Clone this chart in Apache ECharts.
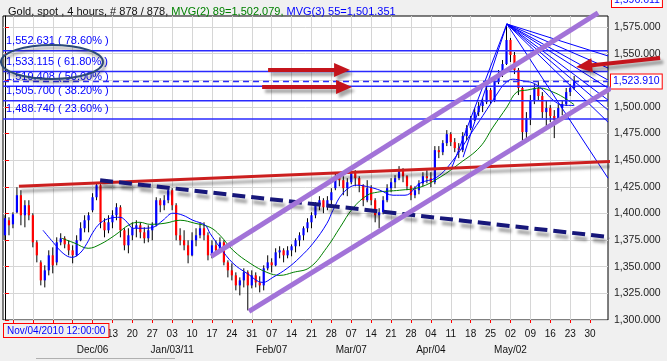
<!DOCTYPE html>
<html><head><meta charset="utf-8">
<script src="https://cdn.jsdelivr.net/npm/echarts@6/dist/echarts.min.js"></script>
<style>html,body{margin:0;padding:0;background:#f0f0f0}#c{width:667px;height:361px}</style>
</head><body><div id="c"></div>
<script>
// ---- data ----
const dayCount = 152; // trading days Nov/04/2010 .. Jun/03/2011 (index = day)
const weekTickIdx = [2,7,12,17,22,27,32,37,42,47,52,57,62,67,72,77,82,87,92,97,102,107,112,117,122,127,132,137,142,147];
const weekLabels = ['08','15','22','29','06','13','20','27','03','10','17','24','31','07','14','21','28','07','14','21','28','04','11','18','25','02','09','16','23','30'];
const monthLabels = ['','','','','Dec/06','','','','Jan/03/11','','','','','Feb/07','','','','Mar/07','','','','Apr/04','','','','May/02','','','',''];
const yTicks = [1300,1325,1350,1375,1400,1425,1450,1475,1500,1525,1550,1575];
// [open, close, low, high] per day
const ohlc = [
[1379.5,1395.5,1374.8,1398.3],[1393.6,1388.9,1379.5,1396.4],[1389.8,1399.2,1386.1,1401.1],[1401.1,1417.1,1400.2,1424.6],
[1417.1,1398.3,1388.9,1421.8],[1398.3,1407.7,1387.0,1412.4],[1407.7,1398.3,1393.6,1412.4],[1398.3,1372.9,1368.2,1400.2],
[1372.9,1360.7,1354.1,1374.8],[1354.1,1337.2,1332.5,1356.0],[1337.2,1346.6,1330.6,1351.3],[1346.6,1360.7,1341.9,1365.4],
[1360.7,1351.3,1343.8,1368.2],[1354.1,1372.9,1351.3,1377.6],[1372.9,1376.7,1370.1,1381.4],[1376.7,1371.0,1367.3,1378.6],
[1371.0,1365.4,1360.7,1374.8],[1365.4,1360.7,1353.2,1370.1],[1360.7,1374.8,1359.8,1379.5],[1374.8,1386.1,1373.9,1391.7],
[1386.1,1393.6,1382.3,1398.3],[1393.6,1398.3,1382.3,1401.1],[1403.0,1415.2,1401.1,1419.0],[1415.2,1426.5,1412.4,1429.3],
[1426.5,1391.7,1386.1,1427.4],[1391.7,1384.2,1377.6,1395.5],[1384.2,1391.7,1381.4,1398.3],[1391.7,1398.3,1386.1,1403.0],
[1398.3,1405.8,1393.6,1409.6],[1405.8,1384.2,1377.6,1407.7],[1384.2,1370.1,1365.4,1386.1],[1370.1,1379.5,1362.6,1386.1],
[1379.5,1386.1,1374.8,1391.7],[1386.1,1388.9,1377.6,1393.6],[1388.9,1382.3,1376.7,1391.7],[1382.3,1376.7,1372.0,1387.0],
[1376.7,1384.2,1372.9,1388.9],[1384.2,1388.9,1374.8,1391.7],[1388.9,1412.4,1387.9,1415.2],[1412.4,1407.7,1401.1,1414.3],
[1407.7,1412.4,1403.0,1417.1],[1412.4,1421.8,1409.6,1425.5],[1421.8,1407.7,1403.0,1423.7],[1407.7,1379.5,1374.8,1409.6],
[1379.5,1374.8,1370.1,1386.1],[1374.8,1370.1,1365.4,1384.2],[1370.1,1360.7,1353.2,1374.8],[1360.7,1374.8,1359.8,1382.3],
[1374.8,1379.5,1369.2,1386.1],[1379.5,1386.1,1376.7,1391.7],[1386.1,1379.5,1374.8,1391.7],[1379.5,1360.7,1356.0,1382.3],
[1360.7,1370.1,1357.9,1374.8],[1370.1,1365.4,1362.6,1374.8],[1365.4,1372.9,1363.5,1377.6],[1372.9,1354.1,1351.3,1374.8],
[1354.1,1346.6,1340.0,1356.0],[1346.6,1341.9,1337.2,1353.2],[1341.9,1332.5,1327.8,1344.7],[1332.5,1337.2,1323.1,1340.0],
[1337.2,1344.7,1330.6,1348.5],[1344.7,1332.5,1309.0,1346.6],[1332.5,1341.9,1329.7,1346.6],[1341.9,1335.3,1330.6,1344.7],
[1335.3,1332.5,1325.9,1341.0],[1332.5,1348.5,1327.8,1351.3],[1348.5,1354.1,1346.6,1360.7],[1354.1,1351.3,1344.7,1357.9],
[1351.3,1363.5,1350.4,1367.3],[1363.5,1365.4,1357.9,1369.2],[1365.4,1360.7,1354.1,1367.3],[1360.7,1365.4,1357.9,1369.2],
[1365.4,1369.2,1359.8,1371.0],[1369.2,1374.8,1363.5,1376.7],[1374.8,1379.5,1369.2,1382.3],[1379.5,1386.1,1374.8,1387.9],
[1386.1,1391.7,1382.3,1395.5],[1391.7,1398.3,1386.1,1401.1],[1398.3,1407.7,1395.5,1410.5],[1407.7,1412.4,1403.0,1416.2],
[1412.4,1405.8,1400.2,1414.3],[1405.8,1412.4,1403.0,1416.2],[1412.4,1419.9,1407.7,1423.7],[1423.7,1434.9,1421.8,1438.7],
[1434.9,1431.2,1425.5,1438.7],[1431.2,1423.7,1417.1,1434.9],[1423.7,1429.3,1416.2,1433.1],[1429.3,1438.7,1427.4,1442.5],
[1438.7,1433.1,1425.5,1440.6],[1433.1,1426.5,1419.9,1434.9],[1426.5,1412.4,1406.8,1427.4],[1412.4,1423.7,1410.5,1431.2],
[1423.7,1412.4,1407.7,1426.5],[1412.4,1398.3,1391.7,1414.3],[1398.3,1401.1,1386.1,1404.9],[1401.1,1412.4,1399.2,1416.2],
[1412.4,1423.7,1410.5,1427.4],[1423.7,1429.3,1419.9,1433.1],[1429.3,1433.1,1423.7,1435.9],[1433.1,1440.6,1431.2,1444.4],
[1440.6,1434.9,1429.3,1442.5],[1434.9,1425.5,1421.8,1435.9],[1425.5,1417.1,1412.4,1426.5],[1417.1,1421.8,1414.3,1425.5],
[1421.8,1428.3,1418.0,1431.2],[1428.3,1434.9,1425.5,1438.7],[1434.9,1433.1,1428.3,1440.6],[1433.1,1429.3,1424.6,1438.7],
[1429.3,1459.4,1427.4,1463.2],[1459.4,1457.5,1451.9,1463.2],[1457.5,1466.0,1454.7,1468.8],[1466.0,1474.4,1463.2,1478.2],
[1474.4,1466.9,1463.2,1476.3],[1466.9,1461.3,1457.5,1470.7],[1461.3,1459.4,1451.9,1466.0],[1459.4,1472.6,1457.5,1476.3],
[1472.6,1480.1,1468.8,1482.9],[1480.1,1487.6,1478.2,1491.4],[1487.6,1495.1,1486.7,1498.9],[1495.1,1500.8,1491.4,1504.5],
[1500.8,1504.5,1495.1,1508.3],[1504.5,1515.8,1502.6,1518.6],[1515.8,1506.4,1502.6,1517.7],[1506.4,1523.3,1504.5,1527.1],
[1523.3,1530.8,1521.4,1534.6],[1530.8,1540.2,1528.0,1544.0],[1540.2,1562.8,1539.3,1577.8],[1562.8,1548.7,1542.1,1564.7],
[1548.7,1534.6,1530.8,1551.5],[1534.6,1517.7,1511.1,1536.5],[1517.7,1476.3,1468.8,1519.6],[1476.3,1489.5,1470.7,1495.1],
[1489.5,1506.4,1482.9,1511.1],[1506.4,1517.7,1502.6,1521.4],[1517.7,1510.2,1506.4,1523.3],[1510.2,1495.1,1489.5,1513.9],
[1495.1,1498.9,1481.0,1506.4],[1498.9,1491.4,1485.7,1501.7],[1491.4,1487.6,1470.7,1497.0],[1487.6,1498.9,1486.7,1502.6],
[1498.9,1502.6,1492.3,1506.4],[1502.6,1513.9,1500.8,1517.7],[1513.9,1517.7,1510.2,1521.4],[1517.7,1523.91,1515.8,1529.0]
];
// moving averages [day, value]
const ma89 = [[14.3,1376.7],[17.6,1372.0],[20.9,1367.3],[23.9,1371.0],[27.6,1379.5],[31.4,1389.8],[33.9,1391.7],[36.4,1389.8],
[40.2,1390.8],[44.0,1393.6],[47.7,1390.8],[51.5,1387.0],[54.0,1379.5],[57.3,1365.4],[61.6,1353.2],[65.8,1344.7],[69.1,1341.9],
[72.4,1344.7],[76.6,1349.4],[80.9,1368.2],[84.2,1387.0],[87.4,1404.9],[91.0,1417.1],[93.5,1419.9],[96.0,1420.9],[99.2,1421.8],
[104.3,1424.6],[109.3,1434.0],[114.3,1447.2],[119.3,1462.2],[122.6,1481.0],[126.1,1499.8],[128.6,1513.9],[131.2,1515.8],
[134.4,1517.7],[137.7,1513.9],[140.2,1509.2],[143.0,1502.079]];
const ma55 = [[9.55,1384.2],[12.1,1372.9],[14.6,1362.6],[16.8,1358.8],[18.8,1362.6],[20.6,1372.0],[22.1,1382.3],[23.9,1390.8],
[26.4,1395.5],[28.9,1396.4],[30.7,1391.7],[32.2,1386.1],[34.7,1386.1],[37.2,1387.0],[39.7,1393.6],[42.2,1400.2],[44.7,1398.3],
[47.2,1393.6],[50.3,1388.9],[51.5,1381.4],[54.0,1368.2],[57.3,1353.2],[60.8,1343.8],[64.8,1335.3],[67.3,1340.0],[70.9,1348.5],
[74.1,1358.8],[77.4,1372.0],[80.9,1390.8],[82.4,1403.0],[84.9,1419.0],[88.4,1426.5],[91.7,1424.6],[94.2,1421.8],[97.5,1417.1],
[100.5,1417.1],[104.3,1428.4],[108.5,1434.0],[112.6,1450.0],[116.8,1473.5],[120.1,1492.0],[123.6,1512.0],[125.6,1522.0],
[127.6,1526.0],[130.2,1524.3],[132.7,1522.4],[135.2,1515.8],[137.7,1506.4],[140.2,1501.7],[143.0,1501.351]];
const fibLevels = [1552.631, 1533.115, 1519.408, 1505.700, 1488.740];
const fibPct = ['78.60%', '61.80%', '50.00%', '38.20%', '23.60%'];
const lastPrice = 1523.910;
const highLabel = '1,596.611';
const startLabel = 'Nov/04/2010 12:00:00';
const redTrend = [[3.5,1425.6],[155,1449.1]];
const navyTrend = [[23.9,1431.2],[152.5,1377.6]];
const purpleUpper = [[51.8,1359.8],[149.0,1588.2]];
const purpleLower = [[61.3,1308.1],[152.3,1517.7]];
const fanApex = [126.1,1577.8];
const fanEnds = [[151.5,1547.8],[151.5,1536.5],[151.5,1525.2],[151.5,1517.7],[151.5,1506.4],[151.5,1497.0],[151.5,1485.7],[151.5,1433.1],[112.3,1443.4],[115.1,1452.8]];
const arrows = [[66.1,1534.6,86.7,1534.6],[64.6,1518.6,87.2,1518.6],[164.6,1545.9,143.5,1537.4]];
const ellipseCenter = [11.8,1542.2];

// ---- chart ----
const fmt = v => Number(v).toLocaleString('en-US',{minimumFractionDigits:3,maximumFractionDigits:3});
const FONT = 'Liberation Sans';
const BLUE = '#0000ff';
const LEVEL = '#2a2aff';
const chart = echarts.init(document.getElementById('c'), null, {renderer:'canvas'});
const shadow = {shadowColor:'rgba(0,0,0,0.35)', shadowBlur:3, shadowOffsetX:2, shadowOffsetY:5};

const candleData = ohlc.map((d,i)=>[i, d[0], d[1], d[2], d[3]]);
const fanData = fanEnds.map(e=>[fanApex[0], fanApex[1], e[0], e[1]]);
// horizontal levels: [value, kind] kind 0 = fib, 1 = last price
const levelData = fibLevels.map(v=>[v, 0]).concat([[lastPrice, 1]]);

function trend(data, style){
  return {type:'line', data:data, clip:false, showSymbol:false, symbol:'none', silent:true, animation:false,
          lineStyle:style, z:5};
}

chart.setOption({
  animation:false,
  backgroundColor:'#f0f0f0',
  title:{
    left:3, top:1,
    text:'{k|Gold, spot , 4 hours, # 878 / 878, }{g|MVG(2) 89=1,502.079, }{b|MVG(3) 55=1,501.351}',
    textStyle:{fontSize:11, fontWeight:'normal', fontFamily:FONT,
      rich:{k:{color:'#111', fontSize:11, fontFamily:FONT}, g:{color:'#008000', fontSize:11, fontFamily:FONT}, b:{color:'#0000ff', fontSize:11, fontFamily:FONT}}}
  },
  grid:{left:3, right:59, top:16, bottom:41, show:true, backgroundColor:'#ffffff', borderColor:'#000', borderWidth:1},
  xAxis:{
    type:'value', min:-0.5, max:dayCount-0.5,
    axisLine:{show:false},
    axisTick:{show:true, customValues:weekTickIdx, length:3, lineStyle:{color:'#ff0000'}},
    axisLabel:{customValues:weekTickIdx, margin:6, color:'#111', fontSize:10, fontFamily:FONT, lineHeight:16,
      formatter:function(v){ const k = weekTickIdx.indexOf(Math.round(v)); if(k<0) return ''; return weekLabels[k] + (monthLabels[k] ? '\n'+monthLabels[k] : ''); }},
    splitLine:{show:true, lineStyle:{color:'#d6d6d6', width:1}}
  },
  yAxis:{
    type:'value', position:'right', min:1300, max:1585.3, interval:25,
    axisLine:{show:true, lineStyle:{color:'#000'}},
    axisTick:{show:true, customValues:yTicks, length:4, lineStyle:{color:'#ff0000'}},
    axisLabel:{customValues:yTicks, margin:6, color:'#222', fontSize:10.5, fontFamily:FONT, formatter:v=>fmt(v)},
    splitLine:{show:true, lineStyle:{color:'#d6d6d6', width:1}}
  },
  series:[
    {type:'custom', name:'price', data:candleData, z:2, animation:false,
     encode:{x:0, y:[1,2,3,4]},
     renderItem:function(params, api){
       const x = api.value(0), o = api.value(1), c = api.value(2), l = api.value(3), h = api.value(4);
       const pO = api.coord([x,o]), pC = api.coord([x,c]), pL = api.coord([x,l]), pH = api.coord([x,h]);
       const w = api.size([1,0])[0]*0.55;
       const top = Math.min(pO[1],pC[1]), ht = Math.max(1, Math.abs(pO[1]-pC[1]));
       return {type:'group', children:[
         {type:'line', shape:{x1:pH[0], y1:pH[1], x2:pL[0], y2:pL[1]}, style:{stroke:'#000', lineWidth:1}},
         {type:'rect', shape:{x:pO[0]-w/2, y:top, width:w, height:ht}, style:{fill: c>=o ? '#0000ff' : '#ff0000'}}
       ]};
     }},
    {type:'line', name:'MVG(2) 89', data:ma89, smooth:0.4, showSymbol:false, symbol:'none', z:3,
     lineStyle:{color:'#008000', width:1}},
    {type:'line', name:'MVG(3) 55', data:ma55, smooth:0.4, showSymbol:false, symbol:'none', z:3,
     lineStyle:{color:'#0000ff', width:1}},
    {type:'custom', name:'levels', data:levelData, z:4, clip:false,
     renderItem:function(params, api){
       const v = api.value(0), kind = api.value(1);
       const cs = params.coordSys;
       const y = api.coord([0, v])[1];
       const x0 = cs.x, x1 = cs.x + cs.width;
       if (kind === 0) {
         const k = params.dataIndex;
         return {type:'group', children:[
           {type:'rect', shape:{x:x0, y:y-0.75, width:x1-x0, height:1.5}, style:{fill:LEVEL}},
           {type:'text', x:x0+3, y:y-4, style:{text: fmt(v)+' ( '+fibPct[k]+' )', fill:BLUE,
              font:'11px "Liberation Sans"', align:'left', verticalAlign:'bottom'}}
         ]};
       }
       return {type:'group', children:[
         {type:'line', shape:{x1:x0, y1:y, x2:x1, y2:y}, style:{stroke:LEVEL, lineWidth:1.5, lineDash:[6,4]}},
         {type:'text', x:x1+3, y:y, style:{text: fmt(v), fill:BLUE, font:'10.5px "Liberation Sans"', align:'left', verticalAlign:'middle',
              backgroundColor:'#fff', borderColor:'#ff0000', borderWidth:1, padding:[2,2,1,2]}}
       ]};
     }},
    {type:'custom', name:'fan', data:fanData, z:4, clip:false,
     renderItem:function(params, api){
       const a = api.coord([api.value(0), api.value(1)]), b = api.coord([api.value(2), api.value(3)]);
       return {type:'line', shape:{x1:a[0], y1:a[1], x2:b[0], y2:b[1]}, style:{stroke:'#0000ff', lineWidth:1}};
     }},
    trend(redTrend, Object.assign({color:'#cc1f1f', width:3}, shadow)),
    trend(navyTrend, Object.assign({color:'#17177a', width:4, type:[13,6]}, shadow)),
    trend(purpleUpper, {color:'#a273d8', width:5}),
    trend(purpleLower, {color:'#a273d8', width:5}),
    {type:'custom', name:'arrows', data:arrows, z:8, clip:false,
     renderItem:function(params, api){
       const T = api.coord([api.value(0), api.value(1)]), P = api.coord([api.value(2), api.value(3)]);
       const dx = P[0]-T[0], dy = P[1]-T[1], len = Math.hypot(dx,dy);
       const ux = dx/len, uy = dy/len, nx = -uy, ny = ux;
       const hl = 16, hw = 7, sw = 2;
       const Bx = P[0]-ux*hl, By = P[1]-uy*hl;
       const pts = [[T[0]+nx*sw, T[1]+ny*sw],[Bx+nx*sw, By+ny*sw],[Bx+nx*hw, By+ny*hw],[P[0],P[1]],
                    [Bx-nx*hw, By-ny*hw],[Bx-nx*sw, By-ny*sw],[T[0]-nx*sw, T[1]-ny*sw]];
       return {type:'polygon', shape:{points:pts},
               style:{fill:'#c4141c', shadowColor:'rgba(0,0,0,0.35)', shadowBlur:3, shadowOffsetX:3, shadowOffsetY:4}};
     }},
    {type:'custom', name:'ellipse', data:[ellipseCenter], z:8, clip:false,
     renderItem:function(params, api){
       const c = api.coord([api.value(0), api.value(1)]);
       return {type:'ellipse', shape:{cx:c[0], cy:c[1], rx:51, ry:17},
               style:{fill:null, stroke:'#2b4a78', lineWidth:2, shadowColor:'rgba(0,0,0,0.4)', shadowBlur:3, shadowOffsetX:2, shadowOffsetY:3}};
     }}
  ],
  graphic:[
    {type:'text', left:3, top:323, z:100,
     style:{text:startLabel, fill:'#0000ff', font:'10px "Liberation Sans"', backgroundColor:'#f0f0f0', borderColor:'#ff0000', borderWidth:1, padding:[2,3,1,3]}},
    {type:'text', left:611, top:-8, z:100,
     style:{text:highLabel, fill:'#0000ff', font:'10.5px "Liberation Sans"', backgroundColor:'#fff', borderColor:'#ff0000', borderWidth:1, padding:[2,2,1,2]}},
    {type:'line', shape:{x1:36, y1:358.5, x2:175, y2:358.5}, style:{stroke:'#b0b0b0', lineWidth:1}}
  ]
});
</script></body></html>
